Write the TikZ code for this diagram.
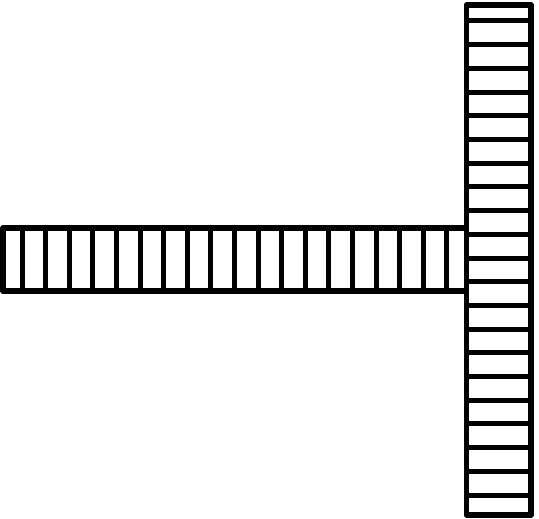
\documentclass[tikz,border=0pt]{standalone}
\usepackage{tikz}

\begin{document}
\begin{tikzpicture}[x=1pt, y=-1pt,
                    bar/.style={draw, line width=5.5pt, line join=round},
                    rung/.style={draw, line width=5pt}
                ]
                \useasboundingbox (0,0) rectangle (539,519);
                % upright bar
                \draw[bar] (466.5,5) rectangle (531,515);
                \foreach \k in {0,...,20}
                    \draw[rung] (466.5,{21+23.7*\k}) -- (531,{21+23.7*\k});
                % lying bar
                \draw[bar] (466.5,228) -- (3,228) -- (3,291) -- (466.5,291);
                \foreach \k in {0,...,18}
                    \draw[rung] ({22+23.6*\k},228) -- ({22+23.6*\k},291);
                \end{tikzpicture}
\end{document}
